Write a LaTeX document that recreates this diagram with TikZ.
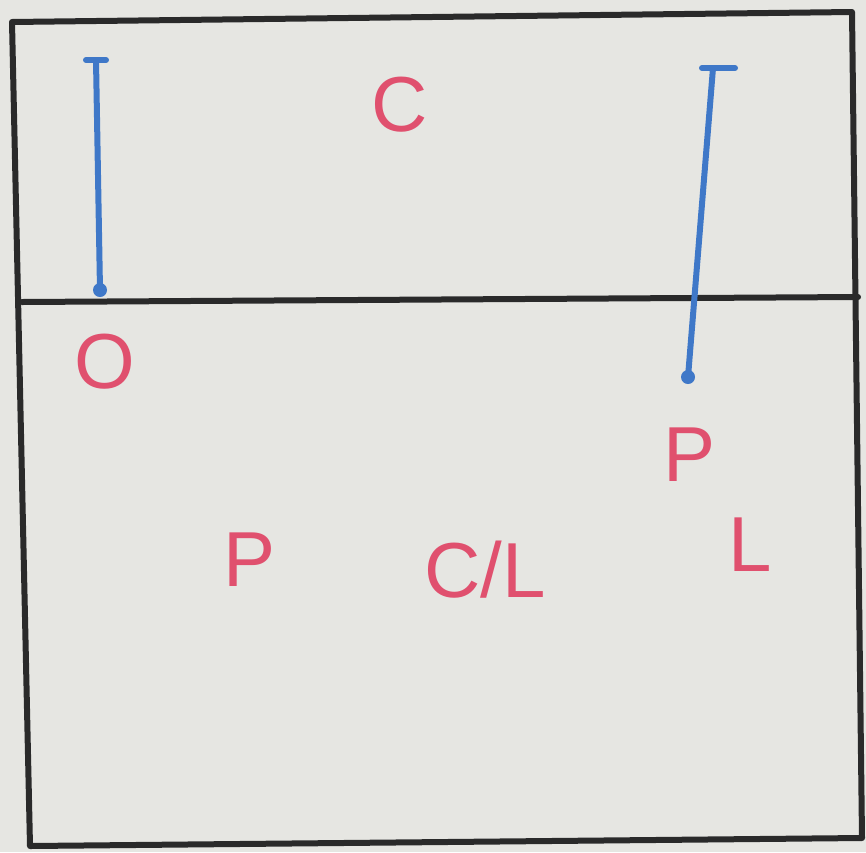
\documentclass[tikz,border=0pt]{standalone}
\usepackage{fontspec}
\setmainfont{Liberation Sans}
\definecolor{board}{HTML}{E6E6E2}
\definecolor{marker}{HTML}{E0506E}
\definecolor{bluem}{HTML}{3F78C8}
\definecolor{inkk}{HTML}{2A2A2A}
\begin{document}
\begin{tikzpicture}[x=1pt,y=-1pt,
  frame/.style={draw=inkk,line width=6pt,line cap=round,line join=round},
  blueline/.style={draw=bluem,line width=6pt,line cap=round},
  lbl/.style={text=marker,font=\fontsize{78}{78}\selectfont,inner sep=0pt}]
\fill[board] (0,0) rectangle (866,852);
\useasboundingbox (0,0) rectangle (866,852);
% frame
\coordinate (tl) at (12,22);
\coordinate (tr) at (852,12);
\coordinate (br) at (862,838);
\coordinate (bl) at (30,846);
\coordinate (ml) at (22,302);
\coordinate (mr) at (858,297);
\draw[frame] (tl) -- (tr) -- (br) -- (bl) -- cycle;
\draw[frame] (ml) -- (mr);
% left blue marker
\coordinate (a1) at (86,60);
\coordinate (a2) at (106,60);
\coordinate (a3) at (96,60);
\coordinate (a4) at (100,290);
\draw[blueline] (a1) -- (a2);
\draw[blueline] (a3) -- (a4);
\fill[bluem] (a4) circle (7pt);
% right blue marker
\coordinate (b1) at (702,68);
\coordinate (b2) at (735,68);
\coordinate (b3) at (713,68);
\coordinate (b4) at (688,377);
\draw[blueline] (b1) -- (b2);
\draw[blueline] (b3) -- (b4);
\fill[bluem] (b4) circle (7pt);
% labels
\node[lbl] (C) at (400,105) {C};
\node[lbl] (O) at (105,362) {O};
\node[lbl] (P1) at (690,455) {P};
\node[lbl] (P2) at (250,560) {P};
\node[lbl] (CL) at (485,570) {C/L};
\node[lbl] (L) at (750,545) {L};
\end{tikzpicture}
\end{document}
